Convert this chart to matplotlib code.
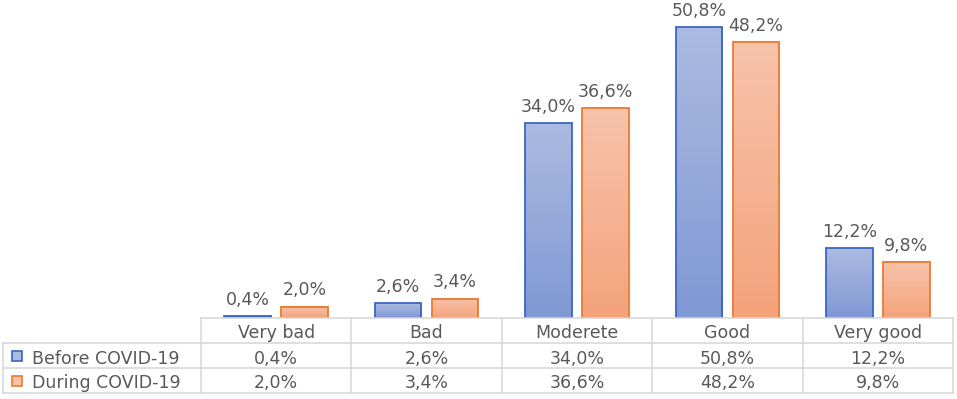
import numpy as np
import matplotlib
matplotlib.use("Agg")
import matplotlib.pyplot as plt
from matplotlib.colors import LinearSegmentedColormap
from matplotlib.patches import Rectangle

categories = ["Very bad", "Bad", "Moderete", "Good", "Very good"]
before = [0.4, 2.6, 34.0, 50.8, 12.2]
during = [2.0, 3.4, 36.6, 48.2, 9.8]
series_names = ["Before COVID-19", "During COVID-19"]

plt.rcParams["font.family"] = ["DejaVu Sans"]
TXT = "#595959"
GRID = "#d9d9d9"
FS = 12.5

W, H = 957, 399
fig = plt.figure(figsize=(W / 100, H / 100), dpi=100)
fig.patch.set_facecolor("white")

def fx(px):
    return px / W

def fy(py):
    return 1 - py / H

x0, x1 = 201, 953
base = 318
scale = 291 / 50.8
ax = fig.add_axes([fx(x0), fy(base), fx(x1) - fx(x0), base / H])
ax.axis("off")

styles = [
    dict(edge="#3a66c0", top="#abbae0", bot="#8098d4"),
    dict(edge="#ec7a30", top="#f7c3ab", bot="#f4a37b"),
]
width = 0.31
offs = [-0.19, 0.19]
xs = np.arange(len(categories))

def fmt(v):
    return f"{v:.1f}".replace(".", ",") + "%"

for vals, st, off in zip([before, during], styles, offs):
    cmap = LinearSegmentedColormap.from_list("g", [st["bot"], st["top"]])
    bars = ax.bar(xs + off, vals, width, facecolor="none",
                  edgecolor=st["edge"], linewidth=1.3, zorder=3)
    for p, v in zip(bars.patches, vals):
        grad = np.linspace(0, 1, 100).reshape(-1, 1)
        ax.imshow(grad, cmap=cmap, origin="lower", aspect="auto",
                  extent=[p.get_x(), p.get_x() + p.get_width(), 0, p.get_height()],
                  zorder=2)
        ax.annotate(fmt(v), (p.get_x() + p.get_width() / 2, v),
                    xytext=(0, 8), textcoords="offset points",
                    ha="center", va="baseline", color=TXT, fontsize=FS)

ax.set_xlim(-0.5, len(categories) - 0.5)
ax.set_ylim(0, base / scale)

# Data table
tab = fig.add_axes([0, 0, 1, 1])
tab.set_xlim(0, W)
tab.set_ylim(H, 0)
tab.axis("off")
tab.patch.set_alpha(0)

left = 3
rows = [318, 343, 368, 393]
ncol = len(categories)
cols = [x0 + i * (x1 - x0) / ncol for i in range(ncol + 1)]

lw = 1.2
tab.plot([x0, x1], [rows[0], rows[0]], color=GRID, lw=lw)
for r in rows[1:]:
    tab.plot([left, x1], [r, r], color=GRID, lw=lw)
tab.plot([left, left], [rows[1], rows[3]], color=GRID, lw=lw)
for c in cols:
    tab.plot([c, c], [rows[0], rows[3]], color=GRID, lw=lw)

for i, cat in enumerate(categories):
    cx = (cols[i] + cols[i + 1]) / 2
    tab.text(cx, (rows[0] + rows[1]) / 2 + 1, cat, ha="center", va="center_baseline",
             color=TXT, fontsize=FS)
    for j, vals in enumerate([before, during]):
        tab.text(cx, (rows[j + 1] + rows[j + 2]) / 2 + 1, fmt(vals[i]), ha="center",
                 va="center_baseline", color=TXT, fontsize=FS)

for j, (name, st) in enumerate(zip(series_names, styles)):
    cy = (rows[j + 1] + rows[j + 2]) / 2
    tab.add_patch(Rectangle((11.5, cy - 4.5), 10, 10, facecolor=st["top"],
                            edgecolor=st["edge"], lw=1.2))
    tab.text(32, cy + 1, name, ha="left", va="center_baseline", color=TXT, fontsize=FS)

fig.savefig("out.png", dpi=100, facecolor="white")
